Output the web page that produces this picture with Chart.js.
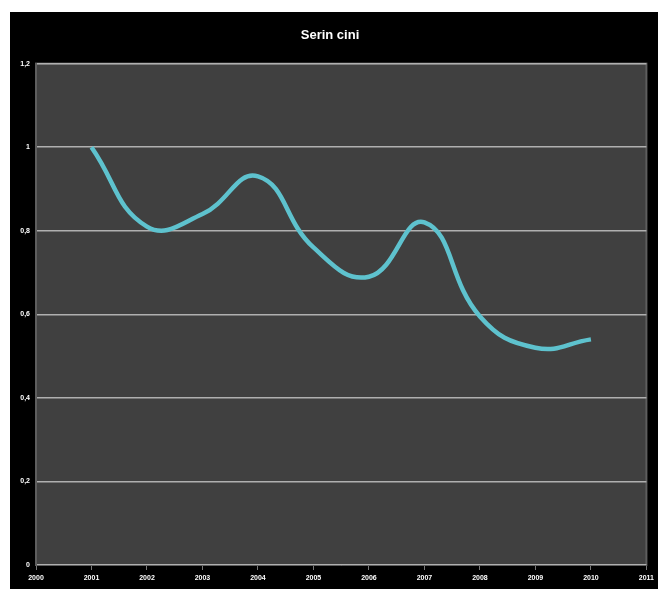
<!DOCTYPE html>
<html>
<head>
<meta charset="utf-8">
<script src="https://cdn.jsdelivr.net/npm/chart.js@4"></script>
<style>
  html, body { margin: 0; padding: 0; background: #ffffff; }
  #wrap { position: absolute; left: 10px; top: 12px; width: 648px; height: 577px; background: #000000; }
</style>
</head>
<body>
<div id="wrap"><canvas id="chart" width="648" height="577"></canvas></div>
<script>
// Dados
const years = [2001, 2002, 2003, 2004, 2005, 2006, 2007, 2008, 2009, 2010];
const values = [1.0, 0.81, 0.84, 0.93, 0.76, 0.69, 0.82, 0.595, 0.52, 0.54];
const chartTitle = 'Serin cini';
const xMin = 2000, xMax = 2011;
const yMin = 0, yMax = 1.2, yStep = 0.2;

// Fundo cinza da área do gráfico
const plotBackground = {
    id: 'plotBackground',
    beforeDraw(chart) {
        const { ctx, chartArea: a } = chart;
        ctx.save();
        ctx.fillStyle = '#404040';
        ctx.fillRect(a.left, a.top, a.right - a.left, a.bottom - a.top);
        ctx.strokeStyle = '#5e5e5e';
        ctx.lineWidth = 2;
        ctx.strokeRect(a.left, a.top, a.right - a.left, a.bottom - a.top);
        ctx.restore();
    }
};

const tickFont = { family: 'Liberation Sans', size: 7, weight: 'bold' };

new Chart(document.getElementById('chart').getContext('2d'), {
    type: 'line',
    data: {
        datasets: [{
            data: years.map((y, i) => ({ x: y, y: values[i] })),
            borderColor: '#5ec2ce',
            borderWidth: 4.5,
            tension: 0.45,
            pointRadius: 0,
            fill: false
        }]
    },
    options: {
        responsive: false,
        animation: false,
        layout: { padding: { left: 0, right: 8, top: 0, bottom: 0 } },
        plugins: {
            legend: { display: false },
            tooltip: { enabled: false },
            title: {
                display: true,
                text: chartTitle,
                color: '#ffffff',
                font: { family: 'Liberation Sans', size: 13, weight: 'bold' },
                padding: { top: 16, bottom: 20 }
            }
        },
        scales: {
            x: {
                type: 'linear',
                min: xMin,
                max: xMax,
                ticks: {
                    stepSize: 1,
                    color: '#ffffff',
                    font: tickFont,
                    padding: 4,
                    maxRotation: 0,
                    callback: v => String(v)
                },
                grid: { drawOnChartArea: false, color: '#777777', tickLength: 5 },
                border: { color: '#5e5e5e' },
                afterFit: s => { s.height = 24; }
            },
            y: {
                min: yMin,
                max: yMax,
                ticks: {
                    stepSize: yStep,
                    color: '#ffffff',
                    font: tickFont,
                    padding: 6,
                    callback: v => String(Math.round(v * 10) / 10).replace('.', ',')
                },
                grid: { color: '#b0b0b0', lineWidth: 1.5, drawTicks: false },
                border: { color: '#5e5e5e' },
                afterFit: s => { s.width = 26; }
            }
        }
    },
    plugins: [plotBackground]
});
</script>
</body>
</html>
